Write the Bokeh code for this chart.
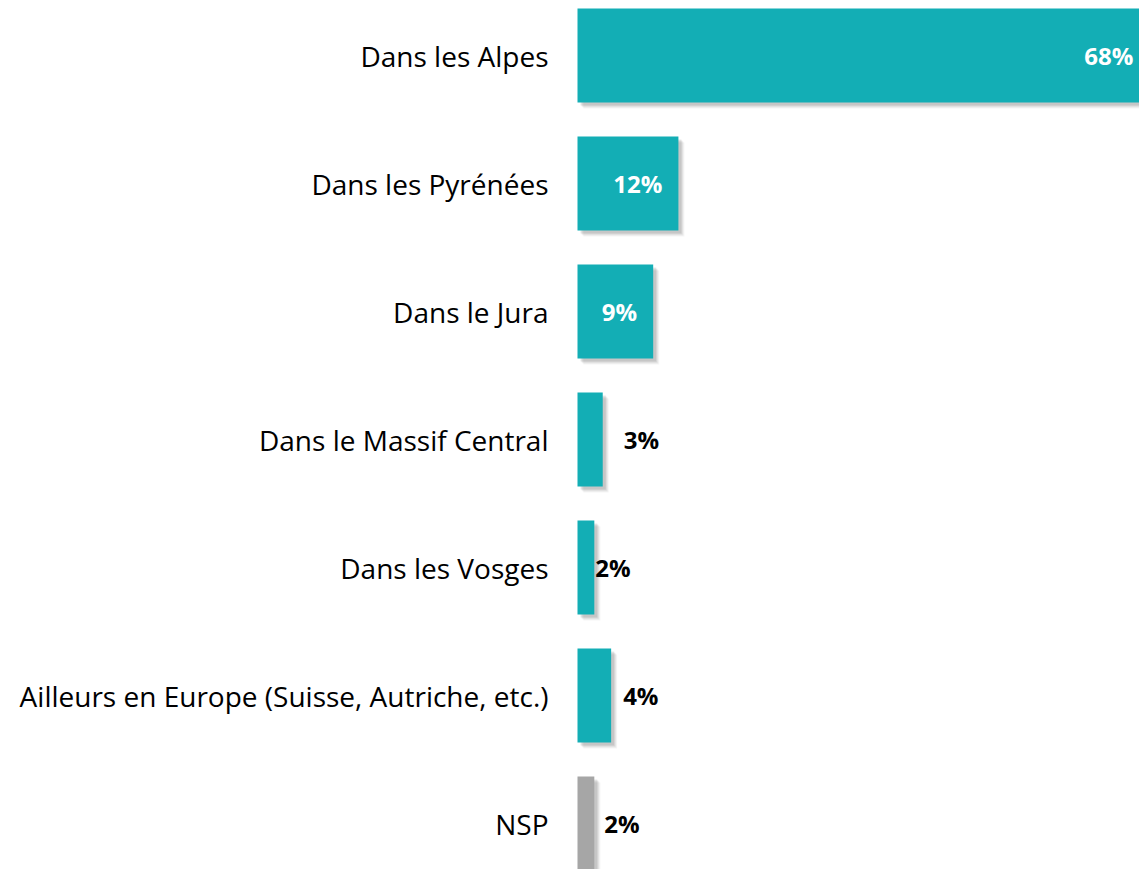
from bokeh.plotting import figure
from bokeh.models import Range1d, ColumnDataSource
from bokeh.core.properties import value
from bokeh.embed import file_html
from bokeh.resources import INLINE

categories = ["Dans les Alpes", "Dans les Pyrénées", "Dans le Jura",
              "Dans le Massif Central", "Dans les Vosges",
              "Ailleurs en Europe (Suisse, Autriche, etc.)", "NSP"]
values = [68, 12, 9, 3, 2, 4, 2]
value_labels = ["68%", "12%", "9%", "3%", "2%", "4%", "2%"]

# styles
TEAL = "#13AEB5"
GREY = "#A6A6A6"
bar_colors = [TEAL] * 6 + [GREY]
inside = [True, True, True, False, False, False, False]
label_offsets = [-16, -16, -16, 21, 1, 12, 10]

W, H = 1139, 869
PX_PER_UNIT = 8.41
ROW_PX = 128
x0 = -577 / PX_PER_UNIT
x1 = x0 + W / PX_PER_UNIT
y_top = -55 / ROW_PX
y_bot = y_top + H / ROW_PX
BAR_H = 94 / ROW_PX

p = figure(width=W, height=H, output_backend="svg", toolbar_location=None,
           x_range=Range1d(x0, x1), y_range=Range1d(y_bot, y_top),
           min_border=0, outline_line_color=None)
p.axis.visible = False
p.grid.visible = False
p.background_fill_color = "white"
p.border_fill_color = "white"

ys = list(range(len(categories)))

# soft shadow
for k, a in [(6, 0.05), (5, 0.07), (4, 0.09), (3, 0.12)]:
    dx = k / PX_PER_UNIT
    dy = k / ROW_PX
    p.quad(left=[dx] * len(values), right=[v + dx for v in values],
           top=[y - BAR_H / 2 + dy for y in ys],
           bottom=[y + BAR_H / 2 + dy for y in ys],
           fill_color="#404040", fill_alpha=a, line_color=None)

src = ColumnDataSource(dict(y=ys, v=values, c=bar_colors))
p.hbar(y="y", right="v", left=0, height=BAR_H, fill_color="c",
       line_color=None, source=src)

# category labels
p.text(x=[0] * len(ys), y=ys, text=categories, x_offset=-29,
       text_align="right", text_baseline="middle",
       text_font=value("Open Sans"), text_font_size="28px", text_color="#000000")

# value labels
for i, (y, v, lab) in enumerate(zip(ys, values, value_labels)):
    p.text(x=[v], y=[y], text=[lab], x_offset=label_offsets[i],
           text_align="right" if inside[i] else "left", text_baseline="middle",
           text_font=value("Open Sans"), text_font_style="bold",
           text_font_size="24px",
           text_color="white" if inside[i] else "black")

open("out.html", "w").write(file_html(p, INLINE))
